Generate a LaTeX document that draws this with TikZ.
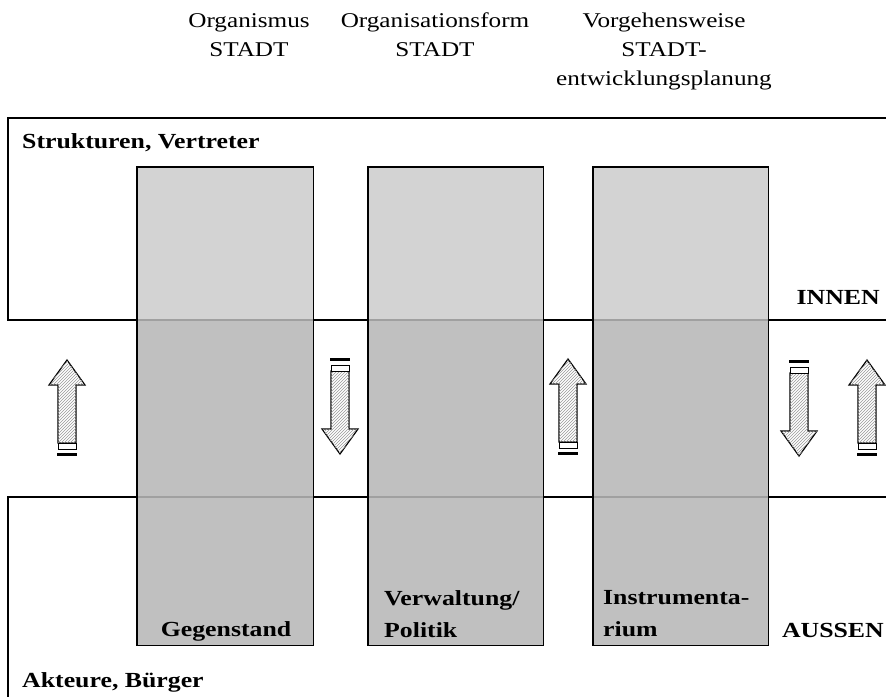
\documentclass[tikz,border=0pt]{standalone}
\usepackage{fontspec}
\setmainfont{Liberation Serif}[FakeStretch=1.2]
\usetikzlibrary{patterns}
\definecolor{colA}{HTML}{D3D3D3}
\definecolor{colB}{HTML}{C0C0C0}
\definecolor{seam}{HTML}{A0A0A0}
\begin{document}
\begin{tikzpicture}[x=1pt,y=-1pt,
  txt/.style={inner sep=0pt, font=\fontsize{21}{29}\selectfont},
  btxt/.style={inner sep=0pt, font=\fontsize{21.5}{32}\selectfont\bfseries},
  colbox/.style={inner sep=0pt, fill=colB, minimum width=175pt, minimum height=478pt, anchor=north west},
  boxline/.style={line width=1.5pt},
  coloutline/.style={line width=1.3pt},
  uparr/.pic={
    \draw[line width=1.2pt, fill=white, postaction={pattern=north east lines, pattern color=gray!80}]
      (0,0) -- (18,25) -- (9,25) -- (9,83) -- (-9,83) -- (-9,25) -- (-18,25) -- cycle;
    \draw[line width=1pt, fill=white] (-9,83) rectangle (9,89);
    \fill (-10,93) rectangle (10,96);
  }
]
\useasboundingbox (0,0) rectangle (886,696);
\clip (0,0) rectangle (886,696);
\fill[white] (0,0) rectangle (886,696);
\coordinate (innerline) at (0,320);
\coordinate (outerline) at (0,497);

% frames
\draw[boxline] (900,118) -- (8,118) -- (8,320) -- (900,320);
\draw[boxline] (900,497) -- (8,497) -- (8,710);

% columns
\node[colbox, minimum width=176pt] (c1) at (137,167) {};
\node[colbox] (c2) at (368,167) {};
\node[colbox] (c3) at (593,167) {};
\foreach \c in {c1,c2,c3}{
  \fill[colA] (\c.north west) rectangle (\c.east |- innerline);
  \draw[seam, line width=1.2pt] (\c.west |- innerline) -- (\c.east |- innerline);
  \draw[seam, line width=1.2pt] (\c.west |- outerline) -- (\c.east |- outerline);
  \draw[coloutline] (\c.north west) rectangle (\c.south east);
}

% arrows
\pic at (67,360) {uparr};
\pic[yscale=-1] at (340,454) {uparr};
\pic at (568,359) {uparr};
\pic[yscale=-1] at (799,456) {uparr};
\pic at (867,360) {uparr};

% top labels
\node[txt, align=center, anchor=north] (t1) at (249,13) {Organismus\\STADT};
\node[txt, align=center, anchor=north] (t2) at (435,13) {Organisationsform\\STADT};
\node[txt, align=center, anchor=north] (t3) at (664,13) {Vorgehensweise\\STADT-\\entwicklungsplanung};

% side labels
\node[btxt, anchor=west] (str) at (22,143) {Strukturen, Vertreter};
\node[btxt, anchor=west] (akt) at (22,682) {Akteure, Bürger};
\node[btxt, anchor=east] (innen) at (880,297) {INNEN};
\node[btxt, anchor=east] (aussen) at (884,630) {AUSSEN};

% column labels
\node[btxt] (geg) at (226,631) {Gegenstand};
\node[btxt, align=left, anchor=west] (verw) at (384,614) {Verwaltung/\\Politik};
\node[btxt, align=left, anchor=west] (instr) at (603,614) {Instrumenta-\\rium};
\end{tikzpicture}
\end{document}
